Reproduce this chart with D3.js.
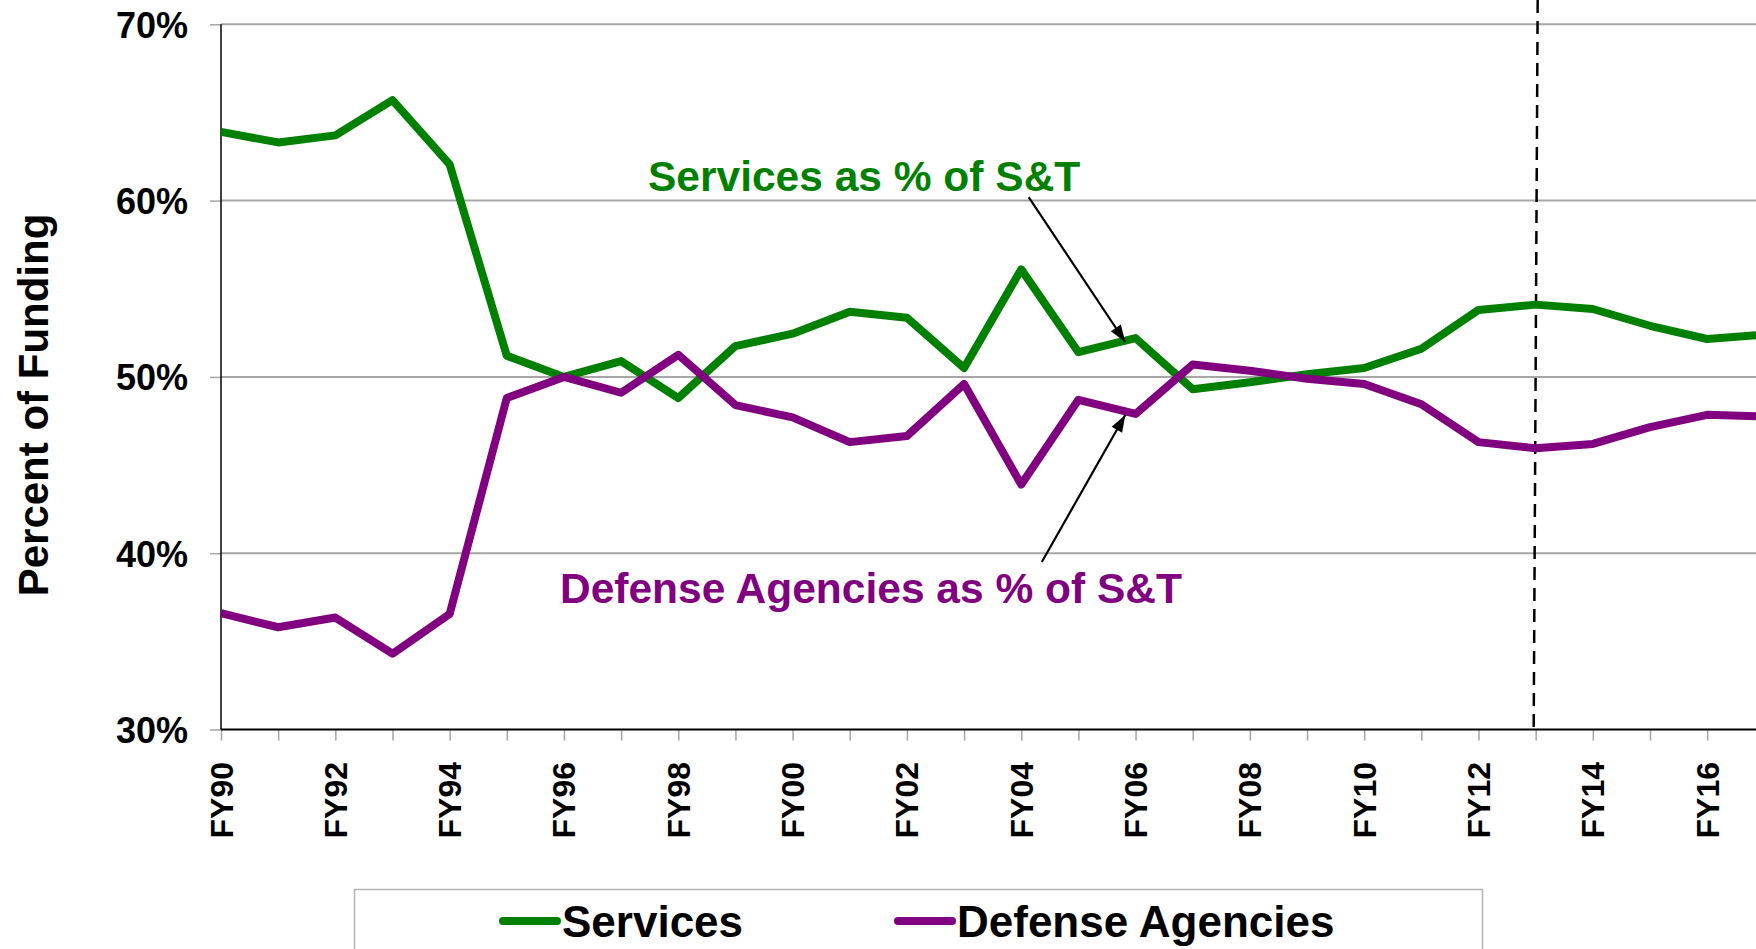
<!DOCTYPE html>
<html>
<head>
<meta charset="utf-8">
<script src="https://cdn.jsdelivr.net/npm/d3@7"></script>
<style>
  html, body { margin: 0; padding: 0; background: #fff; overflow: hidden; }
  svg { display: block; font-family: "Liberation Sans", Arial, sans-serif; font-weight: bold; }
</style>
</head>
<body>
<script>
document.addEventListener('DOMContentLoaded', () => {

  // fiscal years and the two shares of S&T funding (percent)
  const years = d3.range(1990, 2018);
  const services = [63.9, 63.3, 63.7, 65.7, 62.05, 51.2, 50.0, 50.9, 48.8, 51.75,
                    52.45, 53.7, 53.35, 50.5, 56.1, 51.4, 52.2, 49.3, 49.7, 50.15,
                    50.5, 51.6, 53.8, 54.1, 53.85, 52.9, 52.15, 52.4];
  const agencies = [36.6, 35.8, 36.35, 34.3, 36.55, 48.8, 50.0, 49.1, 51.25, 48.4,
                    47.7, 46.3, 46.65, 49.6, 43.9, 48.7, 47.9, 50.7, 50.35, 49.9,
                    49.6, 48.45, 46.3, 45.95, 46.2, 47.15, 47.85, 47.75];
  const yTicks = [30, 40, 50, 60, 70];
  const tickLabelYears = years.filter(y => y % 2 === 0 && y <= 2016);
  const budgetYear = 2013;

  const width = 1756;
  const height = 949;
  const green = '#008000';
  const purple = '#800080';

  const x = d3.scaleLinear().domain([1990, 2018]).range([221, 221 + 28 * 57.16]);
  const y = d3.scaleLinear().domain([30, 70]).range([729.5, 24.3]);

  const svg = d3.select('body').append('svg')
    .attr('width', width)
    .attr('height', height);

  const defs = svg.append('defs');
  defs.append('marker')
    .attr('id', 'head')
    .attr('viewBox', '0 0 10 10')
    .attr('refX', 10).attr('refY', 5)
    .attr('markerWidth', 17).attr('markerHeight', 12)
    .attr('markerUnits', 'userSpaceOnUse')
    .attr('orient', 'auto')
    .attr('overflow', 'visible')
    .attr('preserveAspectRatio', 'none')
    .append('path')
    .attr('d', 'M0,0 L10,5 L0,10 Z')
    .attr('fill', '#000');

  // gridlines
  svg.append('g')
    .selectAll('line')
    .data(yTicks.filter(t => t > 30))
    .enter().append('line')
      .attr('x1', x(1990)).attr('x2', width)
      .attr('y1', d => y(d)).attr('y2', d => y(d))
      .attr('stroke', '#a6a6a6')
      .attr('stroke-width', 2);

  // y axis: gray ticks, bold labels
  const yAxis = svg.append('g')
    .attr('transform', `translate(${x(1990)},0)`)
    .call(d3.axisLeft(y).tickValues(yTicks).tickSize(11).tickPadding(22)
      .tickFormat(d => d + '%'));
  yAxis.select('.domain').remove();
  yAxis.selectAll('.tick line').attr('stroke', '#a6a6a6').attr('stroke-width', 1.5);
  yAxis.selectAll('.tick text')
    .attr('fill', '#000')
    .style('font-size', '36px')
    .style('font-family', '"Liberation Sans", Arial, sans-serif')
    .style('font-weight', 'bold')
    .attr('dy', '0.36em');

  // x axis ticks
  const xAxis = svg.append('g')
    .attr('transform', `translate(0,${y(30)})`)
    .call(d3.axisBottom(x).tickValues(years).tickSize(11).tickFormat(''));
  xAxis.select('.domain').remove();
  xAxis.selectAll('.tick line').attr('stroke', '#a6a6a6').attr('stroke-width', 1.5);

  // rotated FY labels
  svg.append('g')
    .selectAll('text')
    .data(tickLabelYears)
    .enter().append('text')
      .attr('transform', d => `translate(${x(d)},762) rotate(-90)`)
      .attr('text-anchor', 'end')
      .attr('dy', '0.36em')
      .style('font-size', '32px')
      .text(d => 'FY' + String(d % 100).padStart(2, '0'));

  // axis lines
  svg.append('line')
    .attr('x1', x(1990)).attr('x2', x(1990))
    .attr('y1', y(70)).attr('y2', y(30))
    .attr('stroke', '#000').attr('stroke-width', 1.5);
  svg.append('line')
    .attr('x1', x(1990)).attr('x2', width)
    .attr('y1', y(30)).attr('y2', y(30))
    .attr('stroke', '#000').attr('stroke-width', 2);

  // y axis title
  svg.append('text')
    .attr('transform', `translate(48,${(213 + 597) / 2}) rotate(-90)`)
    .attr('text-anchor', 'middle')
    .style('font-size', '42px')
    .text('Percent of Funding');

  // dashed budget-year divider
  svg.append('line')
    .attr('x1', x(budgetYear) + 2).attr('x2', x(budgetYear) - 2)
    .attr('y1', 0).attr('y2', y(30))
    .attr('stroke', '#000')
    .attr('stroke-width', 2.5)
    .attr('stroke-dasharray', '13,8');

  // series lines
  const line = d3.line()
    .x((d, i) => x(years[i]))
    .y(d => y(d));

  [[services, green], [agencies, purple]].forEach(([vals, col]) => {
    svg.append('path')
      .datum(vals)
      .attr('d', line)
      .attr('fill', 'none')
      .attr('stroke', col)
      .attr('stroke-width', 8)
      .attr('stroke-linejoin', 'round');
  });

  // annotations
  svg.append('text')
    .attr('x', 648).attr('y', 190.5)
    .attr('fill', green)
    .style('font-size', '42.5px')
    .text('Services as % of S&T');
  svg.append('text')
    .attr('x', 560).attr('y', 602.5)
    .attr('fill', purple)
    .style('font-size', '42.5px')
    .text('Defense Agencies as % of S&T');

  const arrows = [
    { from: [2004.13, 60.2], to: [2005.82, 51.98] },
    { from: [2004.36, 39.5], to: [2005.82, 47.84] }
  ];
  svg.append('g')
    .selectAll('line')
    .data(arrows)
    .enter().append('line')
      .attr('x1', d => x(d.from[0])).attr('y1', d => y(d.from[1]))
      .attr('x2', d => x(d.to[0])).attr('y2', d => y(d.to[1]))
      .attr('stroke', '#000')
      .attr('stroke-width', 2.2)
      .attr('marker-end', 'url(#head)');

  // legend
  const legend = svg.append('g');
  legend.append('rect')
    .attr('x', 354.5).attr('y', 889.5)
    .attr('width', 1128).attr('height', 100)
    .attr('fill', '#fff')
    .attr('stroke', '#b4b4b4')
    .attr('stroke-width', 1.5);

  const legendItems = [
    { name: 'Services', color: green, x0: 503 },
    { name: 'Defense Agencies', color: purple, x0: 898 }
  ];
  legendItems.forEach(it => {
    legend.append('line')
      .attr('x1', it.x0).attr('x2', it.x0 + 54)
      .attr('y1', 921).attr('y2', 921)
      .attr('stroke', it.color)
      .attr('stroke-width', 8)
      .attr('stroke-linecap', 'round');
    legend.append('text')
      .attr('x', it.x0 + 59).attr('y', 936.5)
      .style('font-size', '44px')
      .text(it.name);
  });

});
</script>
</body>
</html>
